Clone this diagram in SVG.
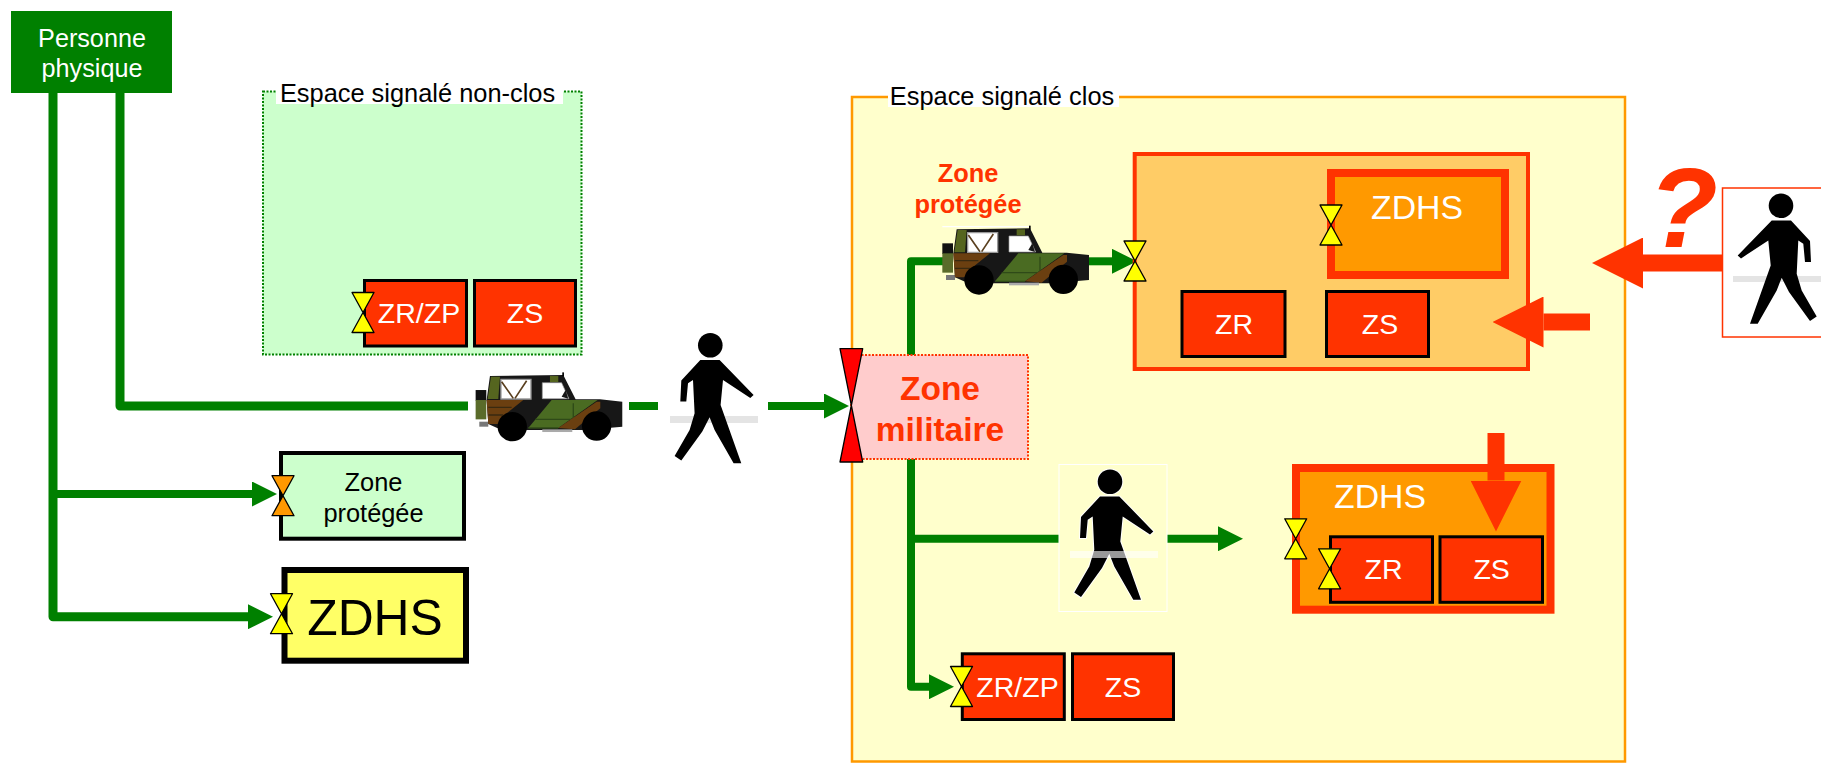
<svg xmlns="http://www.w3.org/2000/svg" xmlns:xlink="http://www.w3.org/1999/xlink" width="1821" height="763" viewBox="0 0 1821 763">
<style>
text{font-family:"Liberation Sans",Arial,sans-serif;text-anchor:middle}
.g{fill:none;stroke:#008000;stroke-width:8;stroke-linejoin:round}
.t{stroke-width:9}
.r{fill:none;stroke:#FF3300;stroke-width:17}
.zr{fill:#FF3300;stroke:#000;stroke-width:3}
.w28{fill:#fff;font-size:28.500px}
.w34{fill:#fff;font-size:33.800px}
.k25{fill:#000;font-size:25.400px}
.b{fill:#FF3300;font-weight:bold}
.y{fill:#FFFF00}
.o{fill:#FF9900}
.wm{fill:#e4e4e4}
</style>
<defs>
<marker id="ga" markerUnits="userSpaceOnUse" markerWidth="25" markerHeight="25" refX="0" refY="12.5" orient="auto"><path d="M0 0L25 12.5L0 25z" fill="#008000"/></marker>
<marker id="ra" markerUnits="userSpaceOnUse" markerWidth="51" markerHeight="51" refX="0" refY="25.5" orient="auto"><path d="M0 0L51 25.5L0 51z" fill="#FF3300"/></marker>
<path id="hg" d="M-11 -20H11L-11 20H11z" stroke="#000" stroke-width="1.3" stroke-linejoin="round"/>
<g id="man">
<circle r="12.300" cy="0" cx="0"/>
<path d="M-10 14.700L9.300 14.700L43.300 49.700L40 52.700L12.700 34.700L10.300 59.700L31 118L23.300 118L4.300 84.700L-.7 72L-8 86.300L-29 115.300L-35.700 110.700L-20.700 84.700L-15.700 68L-17.300 34.700L-22.300 38L-24 56.300L-30 56.300L-29 35.300z"/>
</g>
<g id="jeep">
<rect x="22" y="70" width="32" height="32" fill="#111"/>
<rect x="22" y="100" width="32" height="58" fill="#5A6B2A"/>
<path d="M33 165H60V180H33z" fill="#777"/>
<path d="M65 28L285 25L322 98H395L462 105V180L350 190H100L60 172L55 100z" fill="#171717"/>
<path d="M68 30H95L90 97H58z" fill="#55651F"/>
<path d="M55 100H165L115 140L88 172H60z" fill="#6B3F10"/>
<path d="M60 122H130M60 145H105" stroke="#3a2a10" stroke-width="4" fill="none"/>
<path d="M250 100H388L270 184L180 184z" fill="#4A6B22"/>
<path d="M200 158H315V110M180 184H270" stroke="#2F4A18" stroke-width="4" fill="none"/>
<path d="M270 184L385 105H396V125L320 188z" fill="#6B3F10"/>
<path d="M98 38H188V97H98z" fill="#fff" stroke="#999" stroke-width="4"/>
<path d="M222 48H280L302 96H222z" fill="#fff" stroke="#999" stroke-width="2"/>
<path d="M100 45L135 95M175 42L140 95" stroke="#5A4020" stroke-width="5" fill="none"/>
<path d="M280 90L292 70L300 96z" fill="#171717"/>
<rect x="245" y="28" width="25" height="18" fill="#55651F"/>
<path d="M22 20H285" stroke="#fff" stroke-width="4" fill="none"/>
<rect x="282" y="17" width="5" height="12" fill="#000"/>
<circle cx="132" cy="180" r="44" fill="#000"/>
<circle cx="385" cy="178" r="44" fill="#000"/>
<rect x="222" y="188" width="90" height="8" fill="#aaa"/>
</g>
</defs>
<rect width="1821" height="763" fill="#fff"/>

<g id="espace-non-clos">
<rect x="263" y="91.500" width="318.500" height="263" fill="#CCFFCC" stroke="#008000" stroke-width="2" stroke-dasharray="2 1.500"/>
<rect x="276" y="80" width="287" height="24" fill="#fff"/>
<text class="k25" x="417.500" y="101.500">Espace signalé non-clos</text>
</g>
<g id="espace-clos">
<rect x="852" y="97" width="773" height="664.500" fill="#FFFFCC" stroke="#FF9900" stroke-width="2.500"/>
<rect x="888" y="82" width="231" height="25" fill="#fff"/>
<text class="k25" x="1002" y="105">Espace signalé clos</text>
</g>

<g id="connectors">
<path class="g t" d="M53 93V616.700H248" marker-end="url(#ga)"/>
<path class="g" d="M53 494H252" marker-end="url(#ga)"/>
<path class="g t" d="M120 93V406H468"/>
<path class="g" d="M629 406H658"/>
<path class="g" d="M768 406H824" marker-end="url(#ga)"/>
<path class="g" d="M911 356V261.300H945"/>
<path class="g" d="M1085 261.300H1112" marker-end="url(#ga)"/>
<path class="g" d="M911 458V686.700H929" marker-end="url(#ga)"/>
<path class="g" d="M911 538.700H1059"/>
<path class="g" d="M1167 538.700H1218" marker-end="url(#ga)"/>
</g>

<g id="personne-physique">
<rect x="11" y="11" width="161" height="82" fill="#008000"/>
<text x="92" y="46.500" fill="#fff" font-size="25.200">Personne</text>
<text x="92" y="76.500" fill="#fff" font-size="25.200">physique</text>
</g>

<g id="zr-zp-1">
<rect class="zr" x="364.500" y="280.500" width="102" height="65.500"/>
<text class="w28" x="419" y="323">ZR/ZP</text>
<use xlink:href="#hg" href="#hg" class="y" transform="translate(363,312.500)"/>
</g>
<g id="zs-1">
<rect class="zr" x="474.500" y="280.500" width="101" height="65.500"/>
<text class="w28" x="525" y="323">ZS</text>
</g>

<g id="jeep-1">
<rect x="472" y="370" width="153" height="72" fill="#fff"/>
<use xlink:href="#jeep" href="#jeep" transform="translate(468.300,366.700) scale(.3333)"/>
</g>
<g id="pieton-1">
<rect x="658" y="329" width="110" height="148" fill="#fff"/>
<rect class="wm" x="670" y="416" width="88" height="7"/>
<use xlink:href="#man" href="#man" transform="translate(710.300,345.300)"/>
</g>

<g id="zone-protegee-1">
<rect x="281" y="453" width="183" height="85.700" fill="#CCFFCC" stroke="#000" stroke-width="4"/>
<text class="k25" x="373.500" y="490.500">Zone</text>
<text class="k25" x="373.500" y="521.500">protégée</text>
<use xlink:href="#hg" href="#hg" class="o" transform="translate(283,495.700)"/>
</g>
<g id="zdhs-1">
<rect x="284.500" y="570" width="181.500" height="90.700" fill="#FFFF66" stroke="#000" stroke-width="6"/>
<text x="375" y="635" fill="#000" font-size="49.800">ZDHS</text>
<use xlink:href="#hg" href="#hg" class="y" transform="translate(281.500,613.700)"/>
</g>

<g id="zone-militaire">
<rect x="851" y="355" width="177" height="104" fill="#FFCCCC" stroke="#FF3300" stroke-width="2" stroke-dasharray="2 1.500"/>
<text class="b" x="940" y="400" font-size="33.500">Zone</text>
<text class="b" x="940" y="440.500" font-size="33.500">militaire</text>
<path d="M840 348.700H862.700L840 462H862.700z" fill="#FF0000" stroke="#000" stroke-width="1.300" stroke-linejoin="round"/>
</g>

<g id="jeep-2">
<text class="b" x="968" y="182" font-size="25.400">Zone</text>
<text class="b" x="968" y="212.500" font-size="25.400">protégée</text>
<use xlink:href="#jeep" href="#jeep" transform="translate(935,220) scale(.3333)"/>
</g>

<g id="zone-orange">
<rect x="1134.700" y="154" width="393.300" height="215" fill="#FFCC66" stroke="#FF3300" stroke-width="4"/>
<use xlink:href="#hg" href="#hg" class="y" transform="translate(1135,261)"/>
</g>
<g id="zdhs-2">
<rect x="1331" y="173" width="174" height="102" fill="#FF9900" stroke="#FF3300" stroke-width="8"/>
<text class="w34" x="1417" y="219">ZDHS</text>
<use xlink:href="#hg" href="#hg" class="y" transform="translate(1331,225)"/>
</g>
<g id="zr-2">
<rect class="zr" x="1182" y="291.500" width="103" height="65"/>
<text class="w28" x="1234" y="334">ZR</text>
</g>
<g id="zs-2">
<rect class="zr" x="1326.500" y="291.500" width="102" height="65"/>
<text class="w28" x="1380" y="334">ZS</text>
</g>

<g id="pieton-2">
<rect x="1059" y="464.500" width="108" height="147" fill="none" stroke="#fff" stroke-width="1"/>
<use xlink:href="#man" href="#man" transform="translate(1110,481.700)" stroke="#fff" stroke-width="2" paint-order="stroke"/>
<rect x="1070" y="551" width="88" height="7" fill="#fff" opacity=".6"/>
</g>

<g id="zdhs-3">
<rect x="1296" y="468" width="254.500" height="141.700" fill="#FF9900" stroke="#FF3300" stroke-width="8"/>
<text class="w34" x="1380" y="508.300">ZDHS</text>
<use xlink:href="#hg" href="#hg" class="y" transform="translate(1295.700,538.800)"/>
</g>
<g id="zr-3">
<rect class="zr" x="1330.500" y="536.800" width="102" height="65.500"/>
<text class="w28" x="1383.600" y="579">ZR</text>
<use xlink:href="#hg" href="#hg" class="y" transform="translate(1329.600,568.800)"/>
</g>
<g id="zs-3">
<rect class="zr" x="1440" y="536.800" width="102.500" height="65.500"/>
<text class="w28" x="1491.600" y="579">ZS</text>
</g>

<g id="zr-zp-4">
<rect class="zr" x="962.300" y="653.800" width="102" height="65.700"/>
<text class="w28" x="1017.500" y="697.300">ZR/ZP</text>
<use xlink:href="#hg" href="#hg" class="y" transform="translate(961.500,686.500)"/>
</g>
<g id="zs-4">
<rect class="zr" x="1072.500" y="653.800" width="101" height="65.700"/>
<text class="w28" x="1123" y="697.300">ZS</text>
</g>

<g id="pieton-3">
<rect x="1722.500" y="188" width="110" height="149" fill="#fff" stroke="#FF3300" stroke-width="1.500"/>
<rect class="wm" x="1733" y="276" width="88" height="6"/>
<use xlink:href="#man" href="#man" transform="translate(1781,205.700) scale(-1,1)"/>
</g>

<g id="alertes">
<path class="r" d="M1722 263H1643" marker-end="url(#ra)"/>
<path class="r" d="M1590 322H1543.500" marker-end="url(#ra)"/>
<path class="r" d="M1496 433V480.500" marker-end="url(#ra)"/>
<text x="1683" y="246.700" fill="#FF3300" font-size="114" font-weight="bold" font-style="italic">?</text>
</g>
</svg>
